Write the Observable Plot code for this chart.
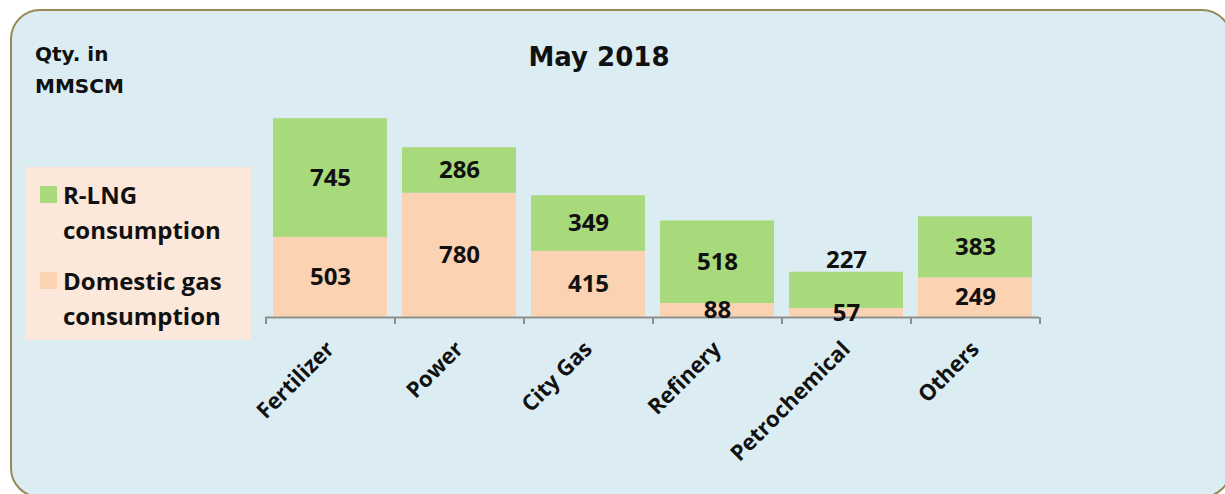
<!DOCTYPE html>
<html>
<head>
<meta charset="utf-8">
<script src="https://cdn.jsdelivr.net/npm/d3@7"></script>
<script src="https://cdn.jsdelivr.net/npm/@observablehq/plot@0.6"></script>
<style>
  html, body { margin: 0; padding: 0; background: #ffffff; }
  #wrap { position: relative; width: 1225px; height: 494px; overflow: hidden; }
  #box { position: absolute; left: 10px; top: 9px; width: 1222px; height: 489px; box-sizing: border-box;
         background: #dbedf3; border: 2px solid #968a55; border-radius: 30px; }
  #chart { position: absolute; left: 0; top: 0; }
  .unit { position: absolute; left: 35px; top: 38px; font-family: "DejaVu Sans", sans-serif; font-weight: bold;
          font-size: 20px; line-height: 32px; color: #111; }
  .title { position: absolute; left: 0; width: 1198px; top: 42px; text-align: center; font-family: "DejaVu Sans", sans-serif;
           font-weight: bold; font-size: 26px; color: #111; }
  #legend { position: absolute; left: 25px; top: 167px; width: 226px; height: 173px; background: #fce8db; }
  .item { position: absolute; left: 15px; }
  .sw { position: absolute; left: 0; width: 17px; height: 17px; }
  .lt { position: absolute; left: 23px; top: -9px; white-space: nowrap; font-family: "Open Sans", sans-serif; font-weight: bold;
        font-size: 24px; line-height: 35px; color: #111; }
</style>
</head>
<body>
<div id="wrap">
  <div id="box"></div>
  <div id="chart"></div>
  <div class="unit">Qty. in<br>MMSCM</div>
  <div class="title" id="title"></div>
  <div id="legend"></div>
</div>
<script>
const title = "May 2018";
const categories = ["Fertilizer", "Power", "City Gas", "Refinery", "Petrochemical", "Others"];
const seriesNames = ["Domestic gas consumption", "R-LNG consumption"];
const domestic = [503, 780, 415, 88, 57, 249];
const rlng = [745, 286, 349, 518, 227, 383];
const colors = ["#fbd3b3", "#a8d97b"];

document.getElementById("title").textContent = title;

const rows = [];
categories.forEach((c, i) => {
  rows.push({category: c, series: seriesNames[0], value: domestic[i]});
  rows.push({category: c, series: seriesNames[1], value: rlng[i]});
});

const W = 1225, H = 494, mL = 265, mR = 186, mT = 94, mB = 177;
const step = (W - mL - mR) / categories.length;
const isShifted = d => d.category === "Petrochemical" && d.series === seriesNames[1];

const chart = Plot.plot({
  width: W, height: H,
  marginLeft: mL, marginRight: mR, marginTop: mT, marginBottom: mB,
  style: {background: "transparent", fontFamily: "'Open Sans', sans-serif", color: "#111"},
  x: {domain: categories, paddingInner: 0.12, paddingOuter: 0.06, label: null},
  y: {domain: [0, 1400], axis: null},
  color: {domain: seriesNames, range: colors},
  marks: [
    Plot.barY(rows, {x: "category", y: "value", fill: "series", z: "series"}),
    Plot.ruleY([0], {stroke: "#8f8f8f", strokeWidth: 2}),
    Plot.ruleX(categories, {x: d => d, y1: 0, y2: 0, insetBottom: -7, dx: -step / 2, stroke: "#8f8f8f", strokeWidth: 2}),
    Plot.ruleX(categories.slice(-1), {x: d => d, y1: 0, y2: 0, insetBottom: -7, dx: step / 2, stroke: "#8f8f8f", strokeWidth: 2}),
    Plot.text(rows, Plot.stackY({x: "category", y: "value", z: "series",
      text: d => isShifted(d) ? "" : String(d.value),
      fontSize: 24, fontWeight: "bold", fill: "#111"})),
    Plot.text(rows, Plot.stackY({x: "category", y: "value", z: "series",
      text: d => isShifted(d) ? String(d.value) : "",
      dy: -30, fontSize: 24, fontWeight: "bold", fill: "#111"})),
    Plot.axisX({tickSize: 0, tickRotate: -45, tickPadding: 28, fontSize: 22, fontWeight: "bold", fill: "#111", label: null})
  ]
});
document.getElementById("chart").appendChild(chart);

const legend = document.getElementById("legend");
const legendLines = [["R-LNG", "consumption"], ["Domestic gas", "consumption"]];
const legendColors = [colors[1], colors[0]];
const legendTops = [19, 105];
legendLines.forEach((lines, i) => {
  const item = document.createElement("div");
  item.className = "item";
  item.style.top = legendTops[i] + "px";
  const sw = document.createElement("div");
  sw.className = "sw";
  sw.style.background = legendColors[i];
  item.appendChild(sw);
  const t = document.createElement("div");
  t.className = "lt";
  t.innerHTML = lines.join("<br>");
  item.appendChild(t);
  legend.appendChild(item);
});
</script>
</body>
</html>
